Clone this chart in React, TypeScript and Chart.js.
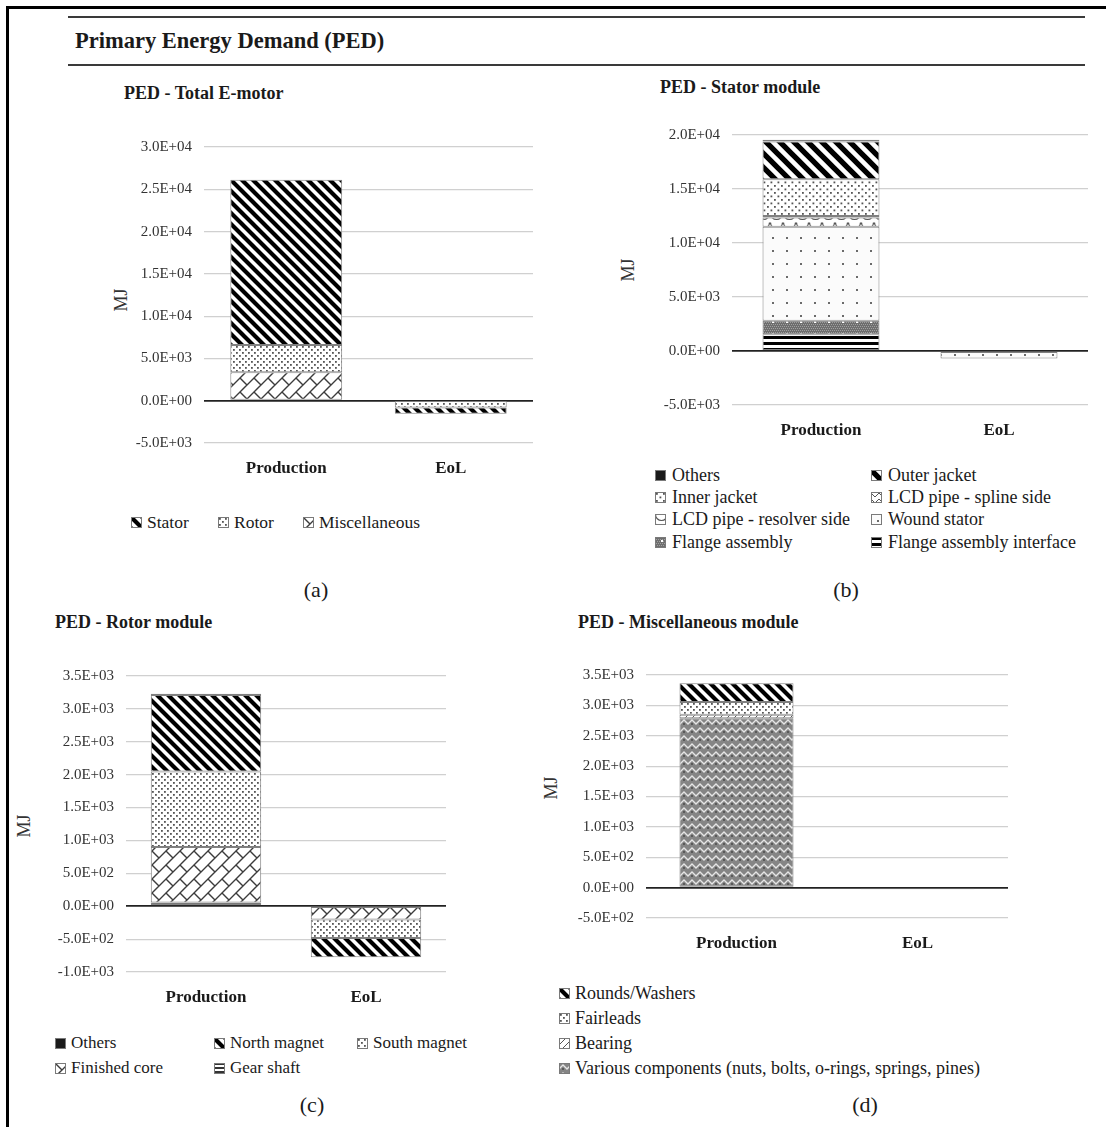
import React, { useEffect, useRef } from 'react';
import { Chart, registerables } from 'chart.js';

Chart.register(...registerables);

const SERIF = '"Liberation Serif", "Times New Roman", Times, serif';

// ---------------- DATA ----------------
const categories = ['Production', 'EoL'];

// (a) PED - Total E-motor
const totalLabels = ['Stator', 'Rotor', 'Miscellaneous'];
const totalStator = [19550, -720];
const totalRotor = [3230, -790];
const totalMisc = [3360, -20];
const totalAxis = [-5000, 30000, 5000]; // min, max, step

// (b) PED - Stator module
const statorLabels = [
  'Others',
  'Outer jacket',
  'Inner jacket',
  'LCD pipe - spline side',
  'LCD pipe - resolver side',
  'Wound stator',
  'Flange assembly',
  'Flange assembly interface',
];
const statorOthers = [150, 0];
const statorOuterJacket = [3500, 0];
const statorInnerJacket = [3400, 0];
const statorLcdSpline = [150, 0];
const statorLcdResolver = [850, 0];
const statorWound = [8690, -690];
const statorFlange = [1250, 0];
const statorFlangeInterface = [1560, 0];
const statorAxis = [-5000, 20000, 5000];

// (c) PED - Rotor module
const rotorLabels = ['Others', 'North magnet', 'South magnet', 'Finished core', 'Gear shaft'];
const rotorOthers = [20, 0];
const rotorNorth = [1160, -290];
const rotorSouth = [1150, -285];
const rotorCore = [845, -200];
const rotorGear = [55, 0];
const rotorAxis = [-1000, 3500, 500];

// (d) PED - Miscellaneous module
const miscLabels = [
  'Rounds/Washers',
  'Fairleads',
  'Bearing',
  'Various components (nuts, bolts, o-rings, springs, pines)',
];
const miscRounds = [310, -5];
const miscFairleads = [210, -3];
const miscBearing = [55, -2];
const miscVarious = [2790, -15];
const miscAxis = [-500, 3500, 500];

// ---------------- PATTERNS ----------------
function tile(w: number, h: number, draw: (c: CanvasRenderingContext2D) => void): CanvasPattern {
  const cv = document.createElement('canvas');
  cv.width = w;
  cv.height = h;
  const c = cv.getContext('2d') as CanvasRenderingContext2D;
  draw(c);
  return c.createPattern(cv, 'repeat') as CanvasPattern;
}

function makePattern(name: string): CanvasPattern | string {
  switch (name) {
    case 'solid':
      return '#1a1a1a';
    case 'stripes':
    case 'stripesLg': {
      const s = name === 'stripes' ? 11 : 14;
      const lw = name === 'stripes' ? 4.2 : 5.4;
      return tile(s, s, (c) => {
        c.fillStyle = '#fff';
        c.fillRect(0, 0, s, s);
        c.strokeStyle = '#000';
        c.lineWidth = lw;
        c.beginPath();
        for (const k of [-s, 0, s]) {
          c.moveTo(k - 3, -3);
          c.lineTo(k + s + 3, s + 3);
        }
        c.stroke();
      });
    }
    case 'dots':
    case 'dotsLg': {
      const s = name === 'dots' ? 6 : 7;
      return tile(s, s, (c) => {
        c.fillStyle = '#fff';
        c.fillRect(0, 0, s, s);
        c.fillStyle = '#555';
        c.fillRect(1, 1, 1.8, 1.8);
        c.fillRect(1 + s / 2, 1 + s / 2, 1.8, 1.8);
      });
    }
    case 'brick': {
      const s = 14;
      return tile(s, s, (c) => {
        c.fillStyle = '#fff';
        c.fillRect(0, 0, s, s);
        c.strokeStyle = '#3c3c3c';
        c.lineWidth = 1.4;
        c.beginPath();
        c.moveTo(-2, s + 2);
        c.lineTo(s + 2, -2);
        c.moveTo(-2, 2);
        c.lineTo(2, -2);
        c.moveTo(s - 2, s + 2);
        c.lineTo(s + 2, s - 2);
        c.moveTo(0, 0);
        c.lineTo(s / 2, s / 2);
        c.stroke();
      });
    }
    case 'herring':
      return tile(8, 8, (c) => {
        c.fillStyle = '#858585';
        c.fillRect(0, 0, 8, 8);
        c.strokeStyle = '#e6e6e6';
        c.lineWidth = 1.3;
        c.beginPath();
        c.moveTo(-1, 7);
        c.lineTo(4, 2);
        c.lineTo(9, 7);
        c.stroke();
        c.fillStyle = '#5a5a5a';
        c.fillRect(3, 5, 2, 2);
      });
    case 'sparse':
      return tile(14, 13, (c) => {
        c.fillStyle = '#fbfbfb';
        c.fillRect(0, 0, 14, 13);
        c.fillStyle = '#6a6a6a';
        c.fillRect(6, 6, 2, 2);
      });
    case 'scallop':
      return tile(13, 9, (c) => {
        c.fillStyle = '#fff';
        c.fillRect(0, 0, 13, 9);
        c.strokeStyle = '#555';
        c.lineWidth = 1.2;
        c.beginPath();
        c.arc(6.5, 0.5, 6, 0, Math.PI);
        c.stroke();
      });
    case 'check':
      return tile(8, 6, (c) => {
        c.fillStyle = '#fff';
        c.fillRect(0, 0, 8, 6);
        c.strokeStyle = '#555';
        c.lineWidth = 1;
        c.beginPath();
        c.moveTo(0, 1);
        c.lineTo(4, 5);
        c.lineTo(8, 1);
        c.stroke();
      });
    case 'flange':
      return tile(14, 12, (c) => {
        c.fillStyle = '#6e6e6e';
        c.fillRect(0, 0, 14, 12);
        c.fillStyle = '#a0a0a0';
        for (let y = 0; y < 12; y += 2) {
          for (let x = (y / 2) % 2 === 0 ? 0 : 1; x < 14; x += 2) c.fillRect(x, y, 1, 1);
        }
        c.fillStyle = '#fff';
        c.fillRect(6, 3, 2, 2);
      });
    case 'hstripes':
      return tile(4, 6, (c) => {
        c.fillStyle = '#fff';
        c.fillRect(0, 0, 4, 6);
        c.fillStyle = '#000';
        c.fillRect(0, 0, 4, 3);
      });
    case 'gear':
      return tile(4, 4, (c) => {
        c.fillStyle = '#fff';
        c.fillRect(0, 0, 4, 4);
        c.fillStyle = '#333';
        c.fillRect(0, 0, 4, 2);
      });
    case 'bearing':
      return tile(7, 7, (c) => {
        c.fillStyle = '#fff';
        c.fillRect(0, 0, 7, 7);
        c.strokeStyle = '#555';
        c.lineWidth = 1;
        c.beginPath();
        c.moveTo(-1, 8);
        c.lineTo(8, -1);
        c.stroke();
      });
    default:
      return '#999';
  }
}

function fmtE(v: number): string {
  if (Math.abs(v) < 1e-9) return '0.0E+00';
  const e = Math.floor(Math.log10(Math.abs(v)) + 1e-9);
  const m = v / Math.pow(10, e);
  return `${m.toFixed(1)}E${e < 0 ? '-' : '+'}${String(Math.abs(e)).padStart(2, '0')}`;
}

// ---------------- COMPONENTS ----------------
type Series = { label: string; data: number[]; pattern: string };

type PanelProps = {
  left: number;
  top: number;
  width: number;
  height: number;
  yWidth: number;
  xHeight: number;
  axis: number[];
  catPct: number;
  series: Series[]; // bottom of stack first
};

function BarPanel(p: PanelProps) {
  const ref = useRef<HTMLCanvasElement>(null);
  useEffect(() => {
    const canvas = ref.current as HTMLCanvasElement;
    const chart = new Chart(canvas, {
      type: 'bar',
      data: {
        labels: categories,
        datasets: p.series.map((s) => ({
          label: s.label,
          data: s.data,
          backgroundColor: makePattern(s.pattern) as any,
          borderColor: '#808080',
          borderWidth: 1,
          borderSkipped: false,
          barPercentage: 1,
          categoryPercentage: p.catPct,
        })),
      },
      options: {
        animation: false,
        responsive: false,
        maintainAspectRatio: false,
        layout: { padding: { top: 1, right: 0, bottom: 0, left: 0 } },
        plugins: {
          legend: { display: false },
          tooltip: { enabled: false },
          title: { display: false },
        },
        scales: {
          x: {
            stacked: true,
            grid: { display: false, drawTicks: false },
            border: { display: false },
            ticks: {
              color: '#1a1a1a',
              font: { family: SERIF, size: 17, weight: 'bold' },
              padding: 15,
              maxRotation: 0,
              autoSkip: false,
            },
            afterFit: (s: any) => {
              s.height = p.xHeight;
            },
          },
          y: {
            stacked: true,
            min: p.axis[0],
            max: p.axis[1],
            grid: {
              drawTicks: false,
              color: (c: any) => (c.tick && c.tick.value === 0 ? '#222' : '#d0d0d0'),
              lineWidth: (c: any) => (c.tick && c.tick.value === 0 ? 1.8 : 1.2),
            },
            border: { display: false },
            ticks: {
              stepSize: p.axis[2],
              color: '#333',
              font: { family: SERIF, size: 15 },
              padding: 12,
              callback: (v: any) => fmtE(Number(v)),
            },
            afterFit: (s: any) => {
              s.width = p.yWidth;
            },
          },
        },
      } as any,
    });
    return () => chart.destroy();
  }, []);
  return (
    <canvas
      ref={ref}
      width={p.width}
      height={p.height}
      style={{ position: 'absolute', left: p.left, top: p.top, width: p.width, height: p.height, display: 'block' }}
    />
  );
}

function Swatch({ pattern, x, y, size = 11 }: { pattern: string; x: number; y: number; size?: number }) {
  const ref = useRef<HTMLCanvasElement>(null);
  useEffect(() => {
    const c = (ref.current as HTMLCanvasElement).getContext('2d') as CanvasRenderingContext2D;
    c.clearRect(0, 0, size, size);
    c.fillStyle = makePattern(pattern) as any;
    c.fillRect(0, 0, size, size);
    c.strokeStyle = '#7a7a7a';
    c.lineWidth = 1;
    c.strokeRect(0.5, 0.5, size - 1, size - 1);
  }, []);
  return (
    <canvas
      ref={ref}
      width={size}
      height={size}
      style={{ position: 'absolute', left: x, top: y - size / 2, display: 'block' }}
    />
  );
}

function LegendItem({
  x,
  y,
  pattern,
  text,
  size = 17,
  gap = 16,
}: {
  x: number;
  y: number;
  pattern: string;
  text: string;
  size?: number;
  gap?: number;
}) {
  return (
    <>
      <Swatch pattern={pattern} x={x} y={y} />
      <Text x={x + gap} y={y} size={size}>
        {text}
      </Text>
    </>
  );
}

function Text({
  x,
  y,
  size,
  bold,
  center,
  children,
}: {
  x: number;
  y: number;
  size: number;
  bold?: boolean;
  center?: boolean;
  children: React.ReactNode;
}) {
  return (
    <div
      style={{
        position: 'absolute',
        left: x,
        top: y,
        transform: center ? 'translate(-50%, -50%)' : 'translateY(-50%)',
        fontFamily: SERIF,
        fontSize: size,
        fontWeight: bold ? 'bold' : 'normal',
        color: '#1a1a1a',
        whiteSpace: 'nowrap',
        lineHeight: 1.15,
      }}
    >
      {children}
    </div>
  );
}

function AxisTitle({ x, y }: { x: number; y: number }) {
  return (
    <div
      style={{
        position: 'absolute',
        left: x,
        top: y,
        transform: 'translate(-50%, -50%) rotate(-90deg)',
        fontFamily: SERIF,
        fontSize: 18,
        color: '#333',
        whiteSpace: 'nowrap',
        lineHeight: 1,
      }}
    >
      MJ
    </div>
  );
}

export default function App() {
  const seriesA: Series[] = [
    { label: totalLabels[2], data: totalMisc, pattern: 'brick' },
    { label: totalLabels[1], data: totalRotor, pattern: 'dots' },
    { label: totalLabels[0], data: totalStator, pattern: 'stripes' },
  ];
  const seriesB: Series[] = [
    { label: statorLabels[7], data: statorFlangeInterface, pattern: 'hstripes' },
    { label: statorLabels[6], data: statorFlange, pattern: 'flange' },
    { label: statorLabels[5], data: statorWound, pattern: 'sparse' },
    { label: statorLabels[4], data: statorLcdResolver, pattern: 'scallop' },
    { label: statorLabels[3], data: statorLcdSpline, pattern: 'check' },
    { label: statorLabels[2], data: statorInnerJacket, pattern: 'dotsLg' },
    { label: statorLabels[1], data: statorOuterJacket, pattern: 'stripesLg' },
    { label: statorLabels[0], data: statorOthers, pattern: 'solid' },
  ];
  const seriesC: Series[] = [
    { label: rotorLabels[4], data: rotorGear, pattern: 'gear' },
    { label: rotorLabels[3], data: rotorCore, pattern: 'brick' },
    { label: rotorLabels[2], data: rotorSouth, pattern: 'dots' },
    { label: rotorLabels[1], data: rotorNorth, pattern: 'stripes' },
    { label: rotorLabels[0], data: rotorOthers, pattern: 'solid' },
  ];
  const seriesD: Series[] = [
    { label: miscLabels[3], data: miscVarious, pattern: 'herring' },
    { label: miscLabels[2], data: miscBearing, pattern: 'bearing' },
    { label: miscLabels[1], data: miscFairleads, pattern: 'dots' },
    { label: miscLabels[0], data: miscRounds, pattern: 'stripes' },
  ];

  return (
    <div style={{ position: 'absolute', left: 0, top: 0, width: 1106, height: 1127, overflow: 'hidden', background: '#fff' }}>
      {/* frame */}
      <div
        style={{
          position: 'absolute',
          left: 6,
          top: 6,
          width: 1200,
          height: 1200,
          borderLeft: '3px solid #000',
          borderTop: '3px solid #000',
        }}
      />
      {/* header rules */}
      <div style={{ position: 'absolute', left: 68, top: 16, width: 1017, height: 0, borderTop: '2px solid #3a3a3a' }} />
      <div style={{ position: 'absolute', left: 68, top: 64, width: 1017, height: 0, borderTop: '2px solid #3a3a3a' }} />
      <Text x={75} y={41} size={22.5} bold>
        Primary Energy Demand (PED)
      </Text>

      {/* (a) */}
      <Text x={124} y={93} size={18} bold>
        PED - Total E-motor
      </Text>
      <AxisTitle x={121} y={300} />
      <BarPanel left={100} top={126} width={433} height={354} yWidth={104} xHeight={37} axis={totalAxis} catPct={0.68} series={seriesA} />
      <LegendItem x={131} y={522} size={17.5} pattern="stripes" text={totalLabels[0]} />
      <LegendItem x={218} y={522} size={17.5} pattern="dots" text={totalLabels[1]} />
      <LegendItem x={303} y={522} size={17.5} pattern="brick" text={totalLabels[2]} />
      <Text x={316} y={590} size={22} center>
        (a)
      </Text>

      {/* (b) */}
      <Text x={660} y={87} size={18} bold>
        PED - Stator module
      </Text>
      <AxisTitle x={628} y={270} />
      <BarPanel left={640} top={114} width={448} height={331} yWidth={92} xHeight={40} axis={statorAxis} catPct={0.657} series={seriesB} />
      <LegendItem x={655} y={475} size={18} gap={17} pattern="solid" text={statorLabels[0]} />
      <LegendItem x={871} y={475} size={18} gap={17} pattern="stripesLg" text={statorLabels[1]} />
      <LegendItem x={655} y={497} size={18} gap={17} pattern="dotsLg" text={statorLabels[2]} />
      <LegendItem x={871} y={497} size={18} gap={17} pattern="check" text={statorLabels[3]} />
      <LegendItem x={655} y={519} size={18} gap={17} pattern="scallop" text={statorLabels[4]} />
      <LegendItem x={871} y={519} size={18} gap={17} pattern="sparse" text={statorLabels[5]} />
      <LegendItem x={655} y={542} size={18} gap={17} pattern="flange" text={statorLabels[6]} />
      <LegendItem x={871} y={542} size={18} gap={17} pattern="hstripes" text={statorLabels[7]} />
      <Text x={846} y={590} size={22} center>
        (b)
      </Text>

      {/* (c) */}
      <Text x={55} y={622} size={18} bold>
        PED - Rotor module
      </Text>
      <AxisTitle x={24} y={826} />
      <BarPanel left={40} top={655} width={406} height={355} yWidth={86} xHeight={38} axis={rotorAxis} catPct={0.69} series={seriesC} />
      <LegendItem x={55} y={1043} pattern="solid" text={rotorLabels[0]} />
      <LegendItem x={214} y={1043} pattern="stripes" text={rotorLabels[1]} />
      <LegendItem x={357} y={1043} pattern="dots" text={rotorLabels[2]} />
      <LegendItem x={55} y={1068} pattern="brick" text={rotorLabels[3]} />
      <LegendItem x={214} y={1068} pattern="gear" text={rotorLabels[4]} />
      <Text x={312} y={1105} size={22} center>
        (c)
      </Text>

      {/* (d) */}
      <Text x={578} y={622} size={18} bold>
        PED - Miscellaneous module
      </Text>
      <AxisTitle x={551} y={788} />
      <BarPanel left={560} top={654} width={448} height={302} yWidth={86} xHeight={38} axis={miscAxis} catPct={0.63} series={seriesD} />
      <LegendItem x={559} y={993} size={18} pattern="stripes" text={miscLabels[0]} />
      <LegendItem x={559} y={1018} size={18} pattern="dots" text={miscLabels[1]} />
      <LegendItem x={559} y={1043} size={18} pattern="bearing" text={miscLabels[2]} />
      <LegendItem x={559} y={1068} size={18} pattern="herring" text={miscLabels[3]} />
      <Text x={865} y={1105} size={22} center>
        (d)
      </Text>
    </div>
  );
}
